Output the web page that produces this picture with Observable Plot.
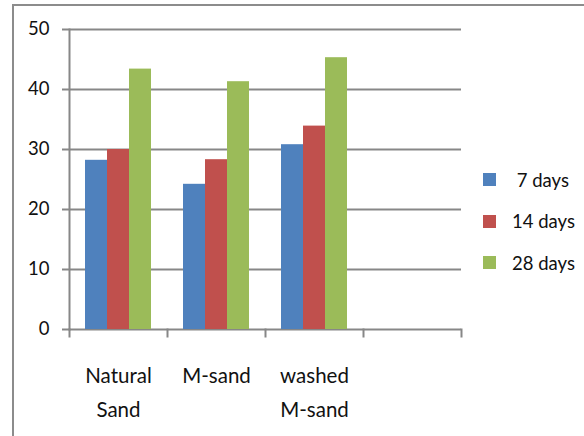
<!DOCTYPE html>
<html>
<head>
<meta charset="utf-8">
<script src="https://cdn.jsdelivr.net/npm/d3@7"></script>
<script src="https://cdn.jsdelivr.net/npm/@observablehq/plot@0.6"></script>
<style>
  body { margin: 0; background: #fff; }
  #wrap { position: relative; width: 584px; height: 436px; overflow: hidden; font-family: Lato, sans-serif; color: #111; }
  #border { position: absolute; left: 12px; top: 4px; width: 620px; height: 480px; border-left: 2px solid #8c8c8c; border-top: 2px solid #8c8c8c; }
  #chart { position: absolute; left: 0; top: 0; }
  #legend { position: absolute; left: 483px; top: 159px; }
  .item { display: flex; align-items: center; height: 41.5px; }
  .sw { width: 13px; height: 13px; margin-right: 16px; flex: none; }
  .lab { font-size: 18.5px; white-space: pre; }
</style>
</head>
<body>
<div id="wrap">
  <div id="border"></div>
  <div id="chart"></div>
  <div id="legend"></div>
</div>
<script>
const categories = ["Natural Sand", "M-sand", "washed M-sand"];
const categoryLabels = ["Natural\nSand", "M-sand", "washed\nM-sand"];
const slots = [...categories, ""]; // empty fourth category slot
const series = ["7 days", "14 days", "28 days"];
const legendLabels = [" 7 days", "14 days", "28 days"];
const days7 = [28.2, 24.2, 30.8];
const days14 = [30.0, 28.3, 33.9];
const days28 = [43.4, 41.3, 45.3];
const colors = ["#4F81BD", "#C0504D", "#9BBB59"];
const yTicks = [0, 10, 20, 30, 40, 50];

const seriesValues = [days7, days14, days28];
const rows = categories.flatMap((c, i) =>
  series.map((s, j) => ({category: c, series: s, value: seriesValues[j][i]}))
);
const gridRows = slots.flatMap(s => yTicks.map(t => ({slot: s, tick: t})));

const grid = "#878787";
const ink = "#111";
const chart = Plot.plot({
  width: 584,
  height: 436,
  marginLeft: 68,
  marginRight: 122,
  marginTop: 29,
  marginBottom: 107,
  style: {fontFamily: "Lato, sans-serif", background: "transparent", overflow: "visible", color: ink},
  fx: {domain: slots, padding: 0, axis: null},
  x: {domain: series, paddingInner: 0, paddingOuter: 0.71, axis: null},
  y: {domain: [0, 50], axis: null},
  color: {domain: series, range: colors},
  marks: [
    Plot.ruleY(gridRows, {fx: "slot", y: "tick", stroke: grid, strokeWidth: 2}),
    Plot.frame({anchor: "left", facetAnchor: "left", stroke: grid, strokeWidth: 2}),
    Plot.frame({anchor: "left", insetTop: 300, insetBottom: -7, stroke: grid, strokeWidth: 2}),
    Plot.frame({anchor: "right", facetAnchor: "right", insetTop: 300, insetBottom: -7, stroke: grid, strokeWidth: 2}),
    Plot.axisY({ticks: yTicks, tickSize: 7, tickPadding: 13, stroke: grid, strokeWidth: 2, color: ink, fontSize: 18.5, label: null}),
    Plot.barY(rows, {fx: "category", x: "series", y: "value", fill: "series"}),
    Plot.text(categories, {
      fx: d => d,
      text: (d, i) => categoryLabels[i],
      frameAnchor: "bottom",
      lineAnchor: "top",
      lineHeight: 1.659,
      dy: 29.4,
      fontSize: 20.5,
      fill: ink
    })
  ]
});
document.getElementById("chart").appendChild(chart);

const legend = document.getElementById("legend");
series.forEach((s, i) => {
  const item = document.createElement("div");
  item.className = "item";
  const sw = document.createElement("div");
  sw.className = "sw";
  sw.style.background = colors[i];
  const lab = document.createElement("span");
  lab.className = "lab";
  lab.textContent = legendLabels[i];
  item.appendChild(sw);
  item.appendChild(lab);
  legend.appendChild(item);
});
</script>
</body>
</html>
